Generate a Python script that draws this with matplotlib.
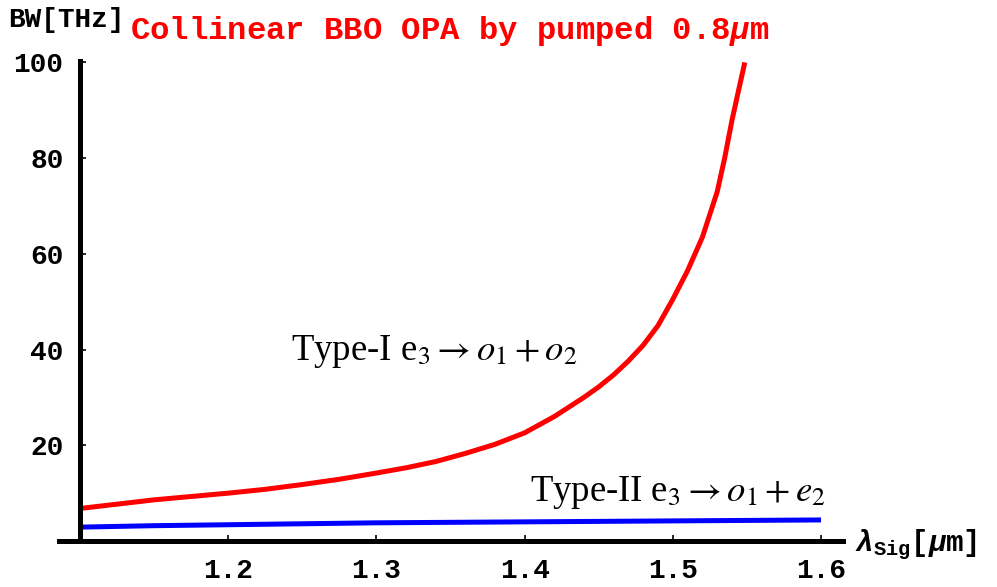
import numpy as np
import matplotlib

matplotlib.use('Agg')
import matplotlib.pyplot as plt

# signal wavelength [um] and bandwidth [THz]
red_x = [1.10, 1.125, 1.15, 1.175, 1.20, 1.225, 1.25, 1.275, 1.30, 1.32, 1.34,
         1.36, 1.38, 1.40, 1.42, 1.44, 1.45, 1.46, 1.47, 1.48, 1.49, 1.50, 1.51,
         1.52, 1.53, 1.535, 1.54, 1.545, 1.5486]
red_y = [6.8, 7.7, 8.6, 9.3, 10.0, 10.8, 11.8, 12.9, 14.2, 15.3, 16.6,
         18.3, 20.2, 22.6, 26.0, 30.0, 32.2, 34.7, 37.6, 40.9, 45.0, 50.5, 56.5,
         63.5, 73.0, 80.0, 88.0, 95.0, 100.0]

blue_x = [1.10, 1.15, 1.20, 1.25, 1.30, 1.35, 1.40, 1.45, 1.50, 1.55, 1.60]
blue_y = [2.9, 3.2, 3.4, 3.6, 3.8, 3.9, 4.0, 4.1, 4.2, 4.3, 4.4]

x_ticks = [1.2, 1.3, 1.4, 1.5, 1.6]
y_ticks = [20, 40, 60, 80, 100]

mono = 'Liberation Mono'
serif = 'Liberation Serif'

plt.rcParams['mathtext.fontset'] = 'custom'
plt.rcParams['mathtext.rm'] = 'Liberation Mono:bold'
plt.rcParams['mathtext.it'] = 'Liberation Mono:italic:bold'
plt.rcParams['mathtext.bf'] = 'Liberation Mono:bold'

fig = plt.figure(figsize=(9.97, 5.87), dpi=100)
W, H = 997.0, 587.0
ax = fig.add_axes([59 / W, 46 / H, (843 - 59) / W, (541 - 61) / H])

ax.plot(red_x, red_y, color='#ff0000', lw=3.6, solid_capstyle='butt',
        solid_joinstyle='round')
ax.plot(blue_x, blue_y, color='#0000ff', lw=3.6, solid_capstyle='butt')

ax.set_xlim(1.1 - 21 / 1480, 1.1 + 762 / 1480)
ax.set_ylim(0, 100.3)
ax.spines['left'].set_position(('data', 1.1))
ax.spines['top'].set_visible(False)
ax.spines['right'].set_visible(False)
for s in ['left', 'bottom']:
    ax.spines[s].set_linewidth(3.6)

ax.set_xticks(x_ticks)
ax.set_yticks(y_ticks)
ax.set_xticklabels(['%.1f' % v for v in x_ticks])
ax.set_yticklabels([str(v) for v in y_ticks])
ax.tick_params(direction='in', length=4, width=1.2, labelsize=20)
ax.tick_params(axis='x', pad=12)
ax.tick_params(axis='y', pad=12)
for lab in ax.get_xticklabels() + ax.get_yticklabels():
    lab.set_fontfamily(mono)
    lab.set_fontweight('bold')

# labels and title
fig.text(8 / W, 1 - 20 / H, 'BW[THz]', family=mono, weight='bold',
         fontsize=20, va='center', ha='left')
fig.text(130 / W, 1 - 31 / H, r'Collinear BBO OPA by pumped 0.8$\mu$m',
         family=mono, weight='bold', fontsize=23.2, color='#ff0000',
         va='center', ha='left')
fig.text(855 / W, 1 - 545 / H, r'$\lambda_{\rm Sig}$[$\mu$m]', family=mono,
         weight='bold', fontsize=21, va='center', ha='left')

ax.text(1.2426, 39.5, r'Type-I e$_3 \rightarrow o_1 + o_2$', family=serif,
        math_fontfamily='stix', fontsize=26.5, va='center', ha='left')
ax.text(1.4034, 10.2, r'Type-II e$_3 \rightarrow o_1 + e_2$', family=serif,
        math_fontfamily='stix', fontsize=26.5, va='center', ha='left')

fig.savefig('out.png', dpi=100)
